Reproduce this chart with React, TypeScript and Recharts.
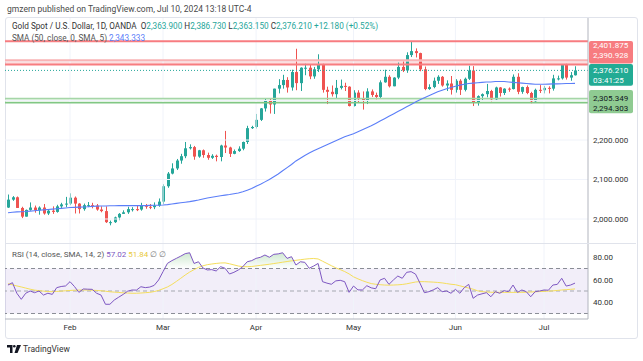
import React from 'react';
import { ComposedChart, Bar, Line, Area, XAxis, YAxis, ReferenceLine, ReferenceArea } from 'recharts';

// ---------- data ----------
const dates = [
  'Jan 12','Jan 15','Jan 16','Jan 17','Jan 18','Jan 19','Jan 22','Jan 23','Jan 24','Jan 25','Jan 26','Jan 29','Jan 30','Jan 31',
  'Feb 1','Feb 2','Feb 5','Feb 6','Feb 7','Feb 8','Feb 9','Feb 12','Feb 13','Feb 14','Feb 15','Feb 16','Feb 19','Feb 20','Feb 21','Feb 22','Feb 23','Feb 26','Feb 27','Feb 28','Feb 29',
  'Mar 1','Mar 4','Mar 5','Mar 6','Mar 7','Mar 8','Mar 11','Mar 12','Mar 13','Mar 14','Mar 15','Mar 18','Mar 19','Mar 20','Mar 21','Mar 22','Mar 25','Mar 26','Mar 27','Mar 28','Mar 29',
  'Apr 1','Apr 2','Apr 3','Apr 4','Apr 5','Apr 8','Apr 9','Apr 10','Apr 11','Apr 12','Apr 15','Apr 16','Apr 17','Apr 18','Apr 19','Apr 22','Apr 23','Apr 24','Apr 25','Apr 26','Apr 29','Apr 30',
  'May 1','May 2','May 3','May 6','May 7','May 8','May 9','May 10','May 13','May 14','May 15','May 16','May 17','May 20','May 21','May 22','May 23','May 24','May 27','May 28','May 29','May 30','May 31',
  'Jun 3','Jun 4','Jun 5','Jun 6','Jun 7','Jun 10','Jun 11','Jun 12','Jun 13','Jun 14','Jun 17','Jun 18','Jun 19','Jun 20','Jun 21','Jun 24','Jun 25','Jun 26','Jun 27','Jun 28',
  'Jul 1','Jul 2','Jul 3','Jul 4','Jul 5','Jul 8','Jul 9','Jul 10',
];

const opens = [
  2029, 2049, 2055, 2028, 2006, 2023, 2029, 2022, 2029, 2014, 2021, 2018, 2032, 2037,
  2039, 2054, 2039, 2025, 2035, 2035, 2034, 2024, 2020, 1992, 1992, 2004, 2013, 2017, 2025, 2025, 2024, 2035, 2031, 2030, 2034,
  2044, 2083, 2115, 2128, 2148, 2159, 2179, 2182, 2158, 2174, 2162, 2155, 2160, 2157, 2186, 2181, 2165, 2172, 2178, 2195, 2230,
  2233, 2251, 2280, 2300, 2290, 2330, 2339, 2352, 2333, 2372, 2344, 2383, 2383, 2361, 2379, 2392, 2327, 2322, 2316, 2332, 2337, 2335,
  2286, 2320, 2304, 2301, 2323, 2314, 2309, 2346, 2360, 2336, 2358, 2385, 2376, 2415, 2425, 2420, 2379, 2329, 2334, 2350, 2360, 2338, 2343,
  2327, 2350, 2327, 2355, 2376, 2294, 2311, 2316, 2324, 2303, 2333, 2319, 2330, 2329, 2360, 2322, 2334, 2319, 2298, 2327,
  2326, 2332, 2330, 2356, 2356, 2392, 2358, 2363.9,
];
const highs = [
  2062, 2058, 2057, 2031, 2024, 2042, 2034, 2032, 2038, 2025, 2032, 2036, 2041, 2056,
  2065, 2057, 2040, 2039, 2043, 2041, 2038, 2032, 2032, 1996, 2006, 2015, 2022, 2031, 2030, 2034, 2041, 2038, 2038, 2042, 2052,
  2088, 2119, 2141, 2152, 2165, 2195, 2189, 2185, 2175, 2176, 2168, 2164, 2163, 2188, 2223, 2183, 2176, 2184, 2196, 2236, 2236,
  2266, 2281, 2305, 2305, 2330, 2354, 2365, 2359, 2378, 2431, 2384, 2393, 2392, 2385, 2417, 2393, 2335, 2338, 2352, 2353, 2345, 2336,
  2326, 2326, 2323, 2331, 2328, 2320, 2351, 2378, 2364, 2359, 2396, 2400, 2422, 2450, 2432, 2421, 2386, 2341, 2358, 2364, 2362, 2351, 2362,
  2354, 2354, 2358, 2388, 2387, 2313, 2318, 2342, 2327, 2335, 2334, 2331, 2333, 2366, 2369, 2335, 2338, 2322, 2330, 2339,
  2337, 2336, 2365, 2363, 2392, 2393, 2372, 2386.73,
];
const lows = [
  2028, 2046, 2028, 2002, 2006, 2021, 2016, 2011, 2011, 2010, 2013, 2016, 2028, 2030,
  2035, 2014, 2014, 2021, 2030, 2027, 2021, 2017, 1990, 1984, 1990, 1997, 2013, 2013, 2019, 2020, 2021, 2026, 2025, 2025, 2031,
  2038, 2079, 2113, 2124, 2140, 2154, 2176, 2150, 2155, 2155, 2150, 2152, 2146, 2146, 2167, 2157, 2164, 2170, 2174, 2190, 2228,
  2229, 2248, 2272, 2267, 2266, 2318, 2330, 2320, 2325, 2326, 2324, 2364, 2354, 2355, 2372, 2320, 2291, 2310, 2305, 2328, 2324, 2285,
  2285, 2295, 2277, 2291, 2309, 2303, 2306, 2345, 2333, 2336, 2354, 2372, 2370, 2410, 2409, 2374, 2326, 2327, 2331, 2342, 2335, 2324, 2315,
  2320, 2314, 2323, 2352, 2286, 2287, 2299, 2308, 2298, 2301, 2310, 2314, 2322, 2328, 2316, 2317, 2316, 2293, 2297, 2319,
  2318, 2318, 2325, 2351, 2353, 2353, 2350, 2363.15,
];
const closes = [
  2049, 2055, 2028, 2006, 2023, 2029, 2022, 2029, 2014, 2021, 2018, 2032, 2037, 2039,
  2054, 2039, 2025, 2035, 2035, 2034, 2024, 2020, 1992, 1992, 2004, 2013, 2017, 2025, 2025, 2024, 2035, 2031, 2030, 2034, 2044,
  2083, 2115, 2128, 2148, 2159, 2179, 2182, 2158, 2174, 2162, 2155, 2160, 2157, 2186, 2181, 2165, 2172, 2178, 2195, 2230, 2233,
  2251, 2280, 2300, 2290, 2330, 2339, 2352, 2333, 2372, 2344, 2383, 2383, 2361, 2379, 2392, 2327, 2322, 2316, 2332, 2337, 2335, 2286,
  2320, 2304, 2301, 2323, 2314, 2309, 2346, 2360, 2336, 2358, 2385, 2376, 2415, 2425, 2420, 2379, 2329, 2334, 2350, 2360, 2338, 2343, 2327,
  2350, 2327, 2355, 2376, 2294, 2311, 2316, 2324, 2303, 2333, 2319, 2330, 2329, 2360, 2322, 2334, 2319, 2298, 2327, 2326,
  2332, 2330, 2356, 2356, 2392, 2358, 2364, 2376.21,
];
const sma50 = [
  2016, 2017, 2018, 2018.5, 2019, 2020, 2021, 2022, 2023, 2024, 2025, 2026, 2027, 2028,
  2029, 2029.5, 2030, 2030.5, 2031, 2032, 2032.5, 2033, 2033, 2033.5, 2033.5, 2034, 2034, 2034, 2034, 2034, 2034, 2034, 2034.5, 2035, 2035,
  2035.5, 2036.5, 2038, 2039.5, 2041, 2042.5, 2044, 2046, 2048, 2050.5, 2053, 2055, 2057, 2059, 2060.5, 2062, 2064, 2066, 2069, 2073, 2077,
  2083, 2088, 2094, 2100, 2107, 2114, 2122, 2130, 2138, 2147, 2154, 2161, 2167, 2173, 2178, 2183, 2188, 2193, 2198, 2203, 2208, 2212,
  2216, 2221, 2226, 2231, 2236, 2242, 2248, 2254, 2260, 2266, 2272, 2278, 2284, 2290, 2296, 2302, 2307, 2312, 2317, 2322, 2326, 2330, 2333,
  2336, 2339, 2341, 2343, 2344, 2345, 2346, 2347, 2347, 2348, 2348, 2348, 2347, 2346, 2345, 2344, 2343, 2342, 2341, 2341,
  2341, 2341.5, 2342, 2342, 2342.5, 2343, 2343, 2343.333,
];
const rsi14 = [
  55.3, 57.4, 48, 42.6, 48, 50, 48.5, 50, 46.4, 48, 47, 53, 54, 54.5,
  58.3, 54, 48.8, 51.8, 51.6, 51.5, 48, 46.4, 38.2, 38.2, 42, 44.5, 47, 49.8, 50.9, 50.8, 53.8, 53, 53.5, 55, 59.8,
  67.2, 74.6, 77, 79, 81, 83.2, 84, 74.5, 76, 70.5, 68.7, 69, 67.8, 71.6, 70.2, 65.1, 66.6, 68.7, 71.6, 76, 77,
  79, 80, 82, 80, 82.6, 83, 84, 79, 80.5, 73.1, 76, 75.5, 70.2, 72.2, 74.5, 58.3, 57, 56, 59, 59.5, 58.3, 48.8,
  54.4, 51, 50.9, 54.7, 52.8, 52, 59.8, 61.3, 55.9, 59.8, 63.3, 61.3, 66.6, 67.2, 65, 57, 48.5, 49.4, 51, 53, 49.4, 50, 48,
  51.5, 48, 53, 55.9, 43.5, 46.4, 47.5, 48.5, 44.9, 49.4, 48, 50.3, 49.4, 55.3, 48.8, 50.9, 49.4, 44.9, 49.4, 50,
  50.9, 50.7, 55.3, 55.9, 61.3, 54.4, 55.3, 57.02,
];
const rsiMa14 = [
  56.5, 55.5, 54.5, 53.6, 52.6, 51.6, 50.8, 50.3, 49.9, 49.5, 49.4, 49.6, 49.9, 50.2,
  50.5, 50.7, 50.8, 50.9, 50.9, 50.7, 50.5, 50.2, 49.8, 49.3, 49, 48.7, 48.4, 48.2, 48, 48, 48.2, 48.5, 48.8, 49.5, 50.5,
  52, 53.6, 55.8, 58.5, 61.3, 64.2, 66.8, 69, 71, 72.4, 73.4, 74, 74.5, 74.9, 75, 74.2, 73.2, 72.2, 71.6, 71.6, 71.8,
  72.3, 72.8, 73.3, 73.8, 74.4, 75, 75.6, 76.2, 76.8, 77.3, 77.8, 78.3, 78.7, 78.9, 78.5, 76.5, 74.5, 72.5, 70.6, 69, 67.3, 65.2,
  62.6, 60.8, 59.2, 57.8, 56.6, 56, 55.6, 55.3, 55.2, 55.3, 55.5, 55.8, 56.4, 57.2, 58, 58.3, 58.3, 58.1, 57.9, 57.6, 57.2, 56.6, 56,
  55.6, 54.6, 53.6, 52.6, 51.6, 50.2, 49.4, 49.1, 48.9, 48.8, 48.8, 48.8, 48.8, 48.8, 48.8, 48.8, 48.9, 49.1, 49.3, 49.5,
  49.7, 49.9, 50.1, 50.5, 50.9, 51.2, 51.5, 51.84,
];

const monthTicks = [14, 35, 56, 78, 101, 121];
const monthLabels = ['Feb', 'Mar', 'Apr', 'May', 'Jun', 'Jul'];
const priceTicks = [2000, 2100, 2200];
const priceGrid = [2000, 2100, 2200, 2300, 2400];
const rsiTicks = [40, 60, 80];

const resistanceTop = 2450.03;
const resistanceHigh = 2401.875;
const resistanceLow = 2390.928;
const supportHigh = 2305.349;
const supportLow = 2294.303;
const lastPrice = 2376.21;

const rows = dates.map((d, i) => ({
  i,
  date: d,
  o: opens[i],
  h: highs[i],
  l: lows[i],
  c: closes[i],
  sma: sma50[i],
  rsi: rsi14[i],
  rsiMa: rsiMa14[i],
  rsiOver: Math.max(rsi14[i], 70),
}));

// ---------- styling ----------
const FONT = 'Roboto, "Liberation Sans", Arial, sans-serif';
const UP = '#26a69a';
const DOWN = '#ef5350';
const SMA_BLUE = '#5b7ef8';
const X_DOMAIN: [number, number] = [-0.677, 130.93];
const P_DOMAIN: [number, number] = [1939.26, 2508.86];
const R_DOMAIN: [number, number] = [25.11, 91.78];

const fmtPrice = (v: number) =>
  v.toLocaleString('en-US', { minimumFractionDigits: 3, maximumFractionDigits: 3 });

const Candle = (props: any) => {
  const { x, y, width, height } = props;
  const d = props.payload ?? props;
  const { o, h, l, c } = d;
  if (h === l || height == null || isNaN(y)) return null;
  const top = Math.min(y, y + height);
  const H = Math.abs(height);
  const ppu = H / (h - l);
  const cx = Math.round(x + width / 2) + 0.5;
  const color = c >= o ? UP : DOWN;
  const bTop = top + (h - Math.max(o, c)) * ppu;
  const bBot = top + (h - Math.min(o, c)) * ppu;
  return (
    <g>
      <line x1={cx} x2={cx} y1={top} y2={top + H} stroke={color} strokeWidth={1} />
      <rect x={cx - 1.5} y={bTop} width={3} height={Math.max(1, bBot - bTop)} fill={color} />
    </g>
  );
};

const Badge = (props: any) => {
  const { viewBox, lines, bg, fg, top, height, textYs } = props;
  if (!viewBox) return null;
  const ax = viewBox.x + viewBox.width;
  const y0 = viewBox.y;
  return (
    <g>
      <rect x={ax + 1} y={y0 + top} width={44} height={height} rx={2} fill={bg} />
      {lines.map((t: string, k: number) => (
        <text key={k} x={ax + 5} y={y0 + textYs[k]} dominantBaseline="central" fontSize={8} fontFamily={FONT} fill={fg}>
          {t}
        </text>
      ))}
    </g>
  );
};

const abs = (l: number, t: number, extra: any = {}) => ({ position: 'absolute' as const, left: l, top: t, ...extra });

export default function App() {
  return (
    <div style={{ position: 'absolute', left: 0, top: 0, width: 643, height: 361, background: '#fff', overflow: 'hidden', fontFamily: FONT }}>
      {/* frame */}
      <div style={abs(5, 17, { width: 631, height: 320, border: '1px solid #e0e3eb', borderRadius: 3 })} />

      {/* main price panel */}
      <div style={abs(0, 0)}>
        <ComposedChart width={643} height={244} data={rows} margin={{ top: 18, right: 0, bottom: 1, left: 5 }}>
          <XAxis type="number" dataKey="i" domain={X_DOMAIN} allowDataOverflow hide />
          <YAxis
            orientation="right"
            type="number"
            domain={P_DOMAIN}
            allowDataOverflow
            ticks={priceTicks}
            interval={0}
            width={55}
            axisLine={{ stroke: '#b2b5be' }}
            tickLine={false}
            tickSize={0}
            tickMargin={5}
            tickFormatter={fmtPrice}
            tick={{ fontSize: 8, fill: '#333', fontFamily: FONT }}
          />
          {priceGrid.map((p) => (
            <ReferenceLine key={'pg' + p} y={p} stroke="#f0f3fa" strokeWidth={1} />
          ))}
          {monthTicks.map((t) => (
            <ReferenceLine key={'vg' + t} x={t} stroke="#f0f3fa" strokeWidth={1} />
          ))}
          <ReferenceArea y1={resistanceLow} y2={resistanceHigh} fill="#f77c80" fillOpacity={0.25} stroke="none" />
          <ReferenceLine y={resistanceHigh} stroke="#f9b3b5" strokeWidth={2} />
          <ReferenceLine
            y={resistanceLow}
            stroke="#f77c80"
            strokeWidth={2}
            label={<Badge lines={[fmtPrice(resistanceHigh), fmtPrice(resistanceLow)]} bg="#f77c80" fg="#ffffff" top={-23.6} height={22.4} textYs={[-19.3, -9.4]} />}
          />
          <ReferenceLine y={resistanceTop} stroke="#f77c80" strokeWidth={2} />
          <ReferenceArea y1={supportLow} y2={supportHigh} fill="#a5d6a7" fillOpacity={0.3} stroke="none" />
          <ReferenceLine y={supportLow} stroke="#81c784" strokeWidth={1.5} />
          <ReferenceLine
            y={supportHigh}
            stroke="#a5d6a7"
            strokeWidth={1.5}
            label={<Badge lines={[fmtPrice(supportHigh), fmtPrice(supportLow)]} bg="#8fcb92" fg="#131722" top={-8.4} height={23.3} textYs={[0, 10.6]} />}
          />
          <ReferenceLine
            y={lastPrice}
            stroke={UP}
            strokeWidth={1}
            strokeDasharray="1 2"
            label={<Badge lines={[fmtPrice(lastPrice), '03:41:25']} bg="#22ab94" fg="#ffffff" top={-6.4} height={21.7} textYs={[0, 10]} />}
          />
          <Bar dataKey={(d: any) => [d.l, d.h]} barSize={3} shape={<Candle />} isAnimationActive={false} />
          <Line type="linear" dataKey="sma" stroke={SMA_BLUE} strokeWidth={1.1} dot={false} isAnimationActive={false} />
        </ComposedChart>
      </div>

      {/* panel separator */}
      <div style={abs(6, 243, { width: 630, height: 1, background: '#e0e3eb' })} />

      {/* RSI panel */}
      <div style={abs(0, 244)}>
        <ComposedChart width={643} height={95} data={rows} margin={{ top: 0, right: 0, bottom: 0, left: 5 }}>
          <defs>
            <linearGradient id="rsiOB" x1="0" y1="0" x2="0" y2="1">
              <stop offset="0%" stopColor="#4caf50" stopOpacity={0.45} />
              <stop offset="100%" stopColor="#4caf50" stopOpacity={0} />
            </linearGradient>
          </defs>
          <XAxis
            type="number"
            dataKey="i"
            domain={X_DOMAIN}
            allowDataOverflow
            ticks={monthTicks}
            interval={0}
            height={20}
            axisLine={{ stroke: '#b2b5be' }}
            tickLine={false}
            tickSize={0}
            tickMargin={5}
            tickFormatter={(v: number) => monthLabels[monthTicks.indexOf(v)] ?? ''}
            tick={{ fontSize: 8, fill: '#333', fontFamily: FONT }}
          />
          <YAxis
            orientation="right"
            type="number"
            domain={R_DOMAIN}
            allowDataOverflow
            ticks={rsiTicks}
            interval={0}
            width={55}
            axisLine={{ stroke: '#b2b5be' }}
            tickLine={false}
            tickSize={0}
            tickMargin={5}
            tickFormatter={(v: number) => v.toFixed(2)}
            tick={{ fontSize: 8, fill: '#333', fontFamily: FONT }}
          />
          {monthTicks.map((t) => (
            <ReferenceLine key={'rvg' + t} x={t} stroke="#f0f3fa" strokeWidth={1} />
          ))}
          <ReferenceArea y1={30} y2={70} fill="#7e57c2" fillOpacity={0.1} stroke="none" />
          <ReferenceLine y={70} stroke="#8a8d96" strokeDasharray="4 3" strokeWidth={1} />
          <ReferenceLine y={50} stroke="#a5a8b0" strokeDasharray="4 3" strokeWidth={1} />
          <ReferenceLine y={30} stroke="#8a8d96" strokeDasharray="4 3" strokeWidth={1} />
          <Area type="linear" dataKey="rsiOver" baseValue={70} stroke="none" fill="url(#rsiOB)" isAnimationActive={false} />
          <Line type="linear" dataKey="rsiMa" stroke="#f5de5c" strokeWidth={1} dot={false} isAnimationActive={false} />
          <Line type="linear" dataKey="rsi" stroke="#7e57c2" strokeWidth={1} dot={false} isAnimationActive={false} />
        </ComposedChart>
      </div>

      {/* texts */}
      <div style={abs(7, 4, { fontSize: 8.5, lineHeight: '10px', color: '#4a4a4a', whiteSpace: 'nowrap' })}>
        gmzern published on TradingView.com, Jul 10, 2024 13:18 UTC-4
      </div>
      <div style={abs(12, 21, { fontSize: 8.2, lineHeight: '10px', color: '#333', whiteSpace: 'nowrap' })}>
        Gold Spot / U.S. Dollar, 1D, OANDA&nbsp; O<span style={{ color: UP }}>2,363.900</span> H<span style={{ color: UP }}>2,386.730</span> L
        <span style={{ color: UP }}>2,363.150</span> C<span style={{ color: UP }}>2,376.210</span> <span style={{ color: UP }}>+12.180 (+0.52%)</span>
      </div>
      <div style={abs(12, 33, { fontSize: 8.2, lineHeight: '10px', color: '#555', whiteSpace: 'nowrap' })}>
        SMA (50, close, 0, SMA, 5) <span style={{ color: SMA_BLUE }}>2,343.333</span>
      </div>
      <div style={abs(12, 250, { fontSize: 8, lineHeight: '10px', color: '#555', whiteSpace: 'nowrap' })}>
        RSI (14, close, SMA, 14, 2) <span style={{ color: '#7e57c2' }}>57.02</span> <span style={{ color: '#e8c93a' }}>51.84</span>{' '}
        <span style={{ color: '#777' }}>∅ ∅</span>
      </div>

      {/* footer logo */}
      <div style={abs(7, 344, { display: 'flex', alignItems: 'center', whiteSpace: 'nowrap' })}>
        <svg width={14} height={8} viewBox="0 0 14 8">
          <path d="M0 0 H5.5 V8 H3 V2.6 H0 Z" fill="#131722" />
          <circle cx={7.3} cy={1.3} r={1.3} fill="#131722" />
          <path d="M10 0 H14 L10.5 8 H7.5 Z" fill="#131722" />
        </svg>
        <span style={{ fontSize: 8.5, color: '#333', marginLeft: 2, lineHeight: '10px' }}>TradingView</span>
      </div>
    </div>
  );
}
